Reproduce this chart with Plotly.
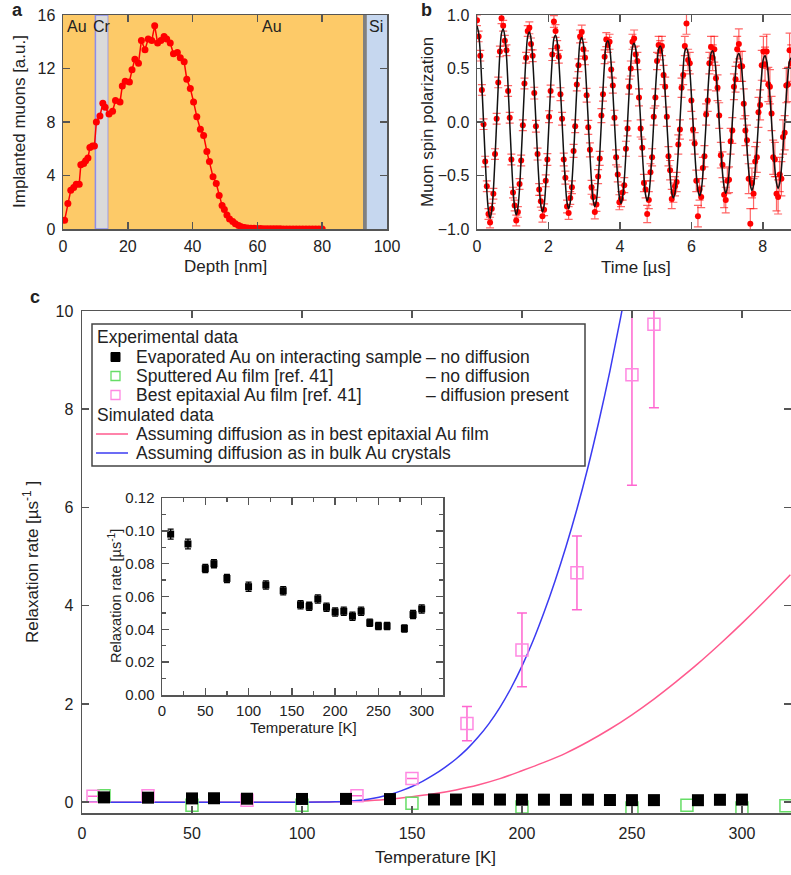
import plotly.graph_objects as go

W, H = 791, 875
FONT = "Arial, Liberation Sans, sans-serif"
TXT = "#222222"
AX = "#555555"

# ---------------- panel a: implantation profile ----------------
depth_nm = [0.5, 1.5, 2.4, 3.3, 4.1, 5.0, 5.5, 6.4, 7.0, 7.7,
            8.3, 9.1, 9.7, 10.3, 11.4, 12.3, 13.0, 14.2, 15.3, 16.2,
            17.6, 18.3, 19.2, 20.5, 21.3, 22.2, 23.3, 24.2, 25.3, 26.3,
            27.4, 28.3, 29.2, 30.2, 31.2, 32.0, 33.1, 34.1, 35.3, 36.2,
            37.4, 38.2, 39.3, 40.3, 41.3, 42.4, 43.4, 44.4, 45.2, 46.3,
            47.3, 48.2, 49.1, 49.8, 50.6, 51.4, 52.4, 53.2, 54.2, 55.0,
            56, 57, 58, 59, 60, 61, 62, 63, 64, 65, 66, 67, 68, 69, 70,
            71, 72, 73, 74, 75, 76, 77, 78, 79, 80]
muons = [0.65, 1.9, 2.9, 3.1, 3.35, 3.35, 4.8, 4.9, 5.1, 5.3,
         6.1, 6.2, 6.2, 8.0, 8.45, 9.4, 9.1, 8.6, 8.8, 9.6,
         9.5, 10.7, 11.05, 11.0, 11.9, 12.7, 12.4, 14.1, 13.4, 14.2,
         14.1, 15.2, 13.9, 14.1, 14.4, 14.2, 13.9, 13.1, 13.2, 12.8,
         12.5, 11.2, 10.5, 9.5, 8.4, 7.45, 7.0, 5.8, 5.05, 3.9,
         3.4, 2.5, 1.75, 1.45, 1.05, 0.75, 0.57, 0.4, 0.27, 0.17,
         0.12, 0.08, 0.06, 0.05, 0.04, 0.03, 0.02, 0.02, 0.01, 0.01, 0.01,
         0.01, 0.0, 0.0, 0.0, 0.0, 0.0, 0.0, 0.0, 0.0, 0.0, 0.0, 0.0, 0.0, 0.0]
layers = [  # (start nm, end nm, fill, line)
    (0, 10, "#FDCA68", None),
    (10, 14, "#DADADA", "#8C8CEB"),
    (14, 92.6, "#FDCA68", None),
    (92.6, 93.8, "#808080", None),
    (93.8, 100, "#C6D7EF", None),
]
layer_labels = [("Au", 4.3), ("Cr", 11.9), ("Au", 64.6), ("Si", 96.6)]

# ---------------- panel b: muon spin precession ----------------
b_time = [
    0.000, 0.046, 0.092, 0.137, 0.183, 0.229, 0.275, 0.321, 0.366, 0.412, 0.458, 0.504, 0.550, 0.595, 0.641, 0.687,
    0.733, 0.779, 0.825, 0.870, 0.916, 0.962, 1.008, 1.054, 1.099, 1.145, 1.191, 1.237, 1.283, 1.328, 1.374, 1.420,
    1.466, 1.512, 1.558, 1.603, 1.649, 1.695, 1.741, 1.787, 1.832, 1.878, 1.924, 1.970, 2.016, 2.061, 2.107, 2.153,
    2.199, 2.245, 2.291, 2.336, 2.382, 2.428, 2.474, 2.520, 2.565, 2.611, 2.657, 2.703, 2.749, 2.794, 2.840, 2.886,
    2.932, 2.978, 3.024, 3.069, 3.115, 3.161, 3.207, 3.253, 3.298, 3.344, 3.390, 3.436, 3.482, 3.527, 3.573, 3.619,
    3.665, 3.711, 3.757, 3.802, 3.848, 3.894, 3.940, 3.986, 4.031, 4.077, 4.123, 4.169, 4.215, 4.260, 4.306, 4.352,
    4.398, 4.444, 4.490, 4.535, 4.581, 4.627, 4.673, 4.719, 4.764, 4.810, 4.856, 4.902, 4.948, 4.993, 5.039, 5.085,
    5.131, 5.177, 5.223, 5.268, 5.314, 5.360, 5.406, 5.452, 5.497, 5.543, 5.589, 5.635, 5.681, 5.726, 5.772, 5.818,
    5.864, 5.910, 5.956, 6.001, 6.047, 6.093, 6.139, 6.185, 6.230, 6.276, 6.322, 6.368, 6.414, 6.459, 6.505, 6.551,
    6.597, 6.643, 6.689, 6.734, 6.780, 6.826, 6.872, 6.918, 6.963, 7.009, 7.055, 7.101, 7.147, 7.192, 7.238, 7.284,
    7.330, 7.376, 7.422, 7.467, 7.513, 7.559, 7.605, 7.651, 7.696, 7.742, 7.788, 7.834, 7.880, 7.925, 7.971, 8.017,
    8.063, 8.109, 8.155, 8.200, 8.246, 8.292, 8.338, 8.384, 8.429, 8.475, 8.521, 8.567, 8.613, 8.658, 8.704, 8.750,
    8.796]
b_polar = [
    0.95, 0.80, 0.62, 0.30, -0.02, -0.37, -0.60, -0.86, -0.94, -0.81, -0.67, -0.30, 0.03, 0.37, 0.66, 0.97,
    0.90, 0.76, 0.67, 0.29, 0.04, -0.35, -0.66, -0.78, -0.92, -0.84, -0.58, -0.36, -0.03, 0.36, 0.60, 0.85,
    0.88, 0.73, 0.62, 0.27, -0.04, -0.30, -0.63, -0.74, -0.88, -0.82, -0.55, -0.35, 0.05, 0.29, 0.63, 0.94,
    0.85, 0.70, 0.61, 0.26, 0.03, -0.35, -0.52, -0.79, -0.85, -0.71, -0.61, -0.27, -0.04, 0.35, 0.53, 0.80,
    0.84, 0.68, 0.60, 0.25, -0.05, -0.26, -0.61, -0.70, -0.84, -0.77, -0.51, -0.34, 0.06, 0.26, 0.61, 0.77,
    0.72, 0.75, 0.49, 0.34, 0.04, -0.33, -0.49, -0.75, -0.72, -0.66, -0.59, -0.25, -0.06, 0.33, 0.50, 0.75,
    0.78, 0.63, 0.57, 0.23, -0.06, -0.24, -0.57, -0.63, -0.86, -0.73, -0.47, -0.33, 0.05, 0.23, 0.57, 0.72,
    0.67, 0.71, 0.44, 0.33, 0.05, -0.32, -0.45, -0.72, -0.66, -0.60, -0.56, -0.21, -0.07, 0.32, 0.44, 0.71,
    0.92, 0.58, 0.55, 0.20, -0.07, -0.20, -0.55, -0.88, -0.63, -0.70, -0.43, -0.32, 0.07, 0.20, 0.55, 0.70,
    0.60, 0.68, 0.41, 0.32, 0.06, -0.31, -0.40, -0.68, -0.73, -0.55, -0.54, -0.18, -0.08, 0.33, 0.40, 0.68,
    0.73, 0.52, 0.52, 0.17, -0.08, -0.17, -0.53, -0.95, -0.57, -0.67, -0.37, -0.33, 0.09, 0.16, 0.53, 0.66,
    0.54, 0.66, 0.35, 0.33, 0.08, -0.33, -0.35, -0.67, -0.70, -0.49, -0.53, -0.14, -0.10, 0.34, 0.35, 0.67,
    0.55]
b_err = [
    0.05, 0.05, 0.05, 0.05, 0.05, 0.05, 0.05, 0.05, 0.05, 0.05, 0.05, 0.05, 0.05, 0.05, 0.05, 0.05,
    0.05, 0.05, 0.05, 0.05, 0.05, 0.05, 0.05, 0.05, 0.05, 0.05, 0.05, 0.05, 0.05, 0.05, 0.05, 0.05,
    0.055, 0.055, 0.055, 0.055, 0.055, 0.055, 0.055, 0.055, 0.055, 0.055, 0.055, 0.055, 0.055, 0.055, 0.055, 0.055,
    0.06, 0.06, 0.06, 0.06, 0.06, 0.06, 0.06, 0.06, 0.06, 0.06, 0.06, 0.06, 0.06, 0.06, 0.06, 0.06,
    0.065, 0.065, 0.065, 0.065, 0.065, 0.065, 0.065, 0.065, 0.065, 0.065, 0.065, 0.065, 0.065, 0.065, 0.065, 0.065,
    0.07, 0.07, 0.07, 0.07, 0.07, 0.07, 0.07, 0.07, 0.07, 0.07, 0.07, 0.07, 0.07, 0.07, 0.07, 0.07,
    0.08, 0.08, 0.08, 0.08, 0.08, 0.08, 0.08, 0.08, 0.08, 0.08, 0.08, 0.08, 0.08, 0.08, 0.08, 0.08,
    0.09, 0.09, 0.09, 0.09, 0.09, 0.09, 0.09, 0.09, 0.09, 0.09, 0.09, 0.09, 0.09, 0.09, 0.09, 0.09,
    0.10, 0.10, 0.10, 0.10, 0.10, 0.10, 0.10, 0.10, 0.10, 0.10, 0.10, 0.10, 0.10, 0.10, 0.10, 0.10,
    0.12, 0.12, 0.12, 0.12, 0.12, 0.12, 0.12, 0.12, 0.12, 0.12, 0.12, 0.12, 0.12, 0.12, 0.12, 0.12,
    0.14, 0.14, 0.14, 0.14, 0.14, 0.14, 0.14, 0.14, 0.14, 0.14, 0.14, 0.14, 0.14, 0.14, 0.14, 0.14,
    0.16, 0.16, 0.16, 0.16, 0.16, 0.16, 0.16, 0.16, 0.16, 0.16, 0.16, 0.16, 0.16, 0.16, 0.16, 0.16,
    0.17]
b_fit = [
    0.90, 0.83, 0.64, 0.34, 0, -0.34, -0.64, -0.83, -0.90, -0.83, -0.64, -0.34, 0, 0.34, 0.64, 0.83,
    0.87, 0.80, 0.62, 0.33, 0, -0.33, -0.62, -0.80, -0.87, -0.80, -0.62, -0.33, 0, 0.33, 0.62, 0.80,
    0.84, 0.78, 0.59, 0.32, 0, -0.32, -0.59, -0.78, -0.84, -0.78, -0.59, -0.32, 0, 0.32, 0.59, 0.78,
    0.81, 0.75, 0.57, 0.31, 0, -0.31, -0.57, -0.75, -0.81, -0.75, -0.57, -0.31, 0, 0.31, 0.57, 0.75,
    0.79, 0.73, 0.56, 0.30, 0, -0.30, -0.56, -0.73, -0.79, -0.73, -0.56, -0.30, 0, 0.30, 0.56, 0.73,
    0.76, 0.70, 0.54, 0.29, 0, -0.29, -0.54, -0.70, -0.76, -0.70, -0.54, -0.29, 0, 0.29, 0.54, 0.70,
    0.735, 0.68, 0.52, 0.28, 0, -0.28, -0.52, -0.68, -0.735, -0.68, -0.52, -0.28, 0, 0.28, 0.52, 0.68,
    0.71, 0.66, 0.50, 0.27, 0, -0.27, -0.50, -0.66, -0.71, -0.66, -0.50, -0.27, 0, 0.27, 0.50, 0.66,
    0.69, 0.64, 0.49, 0.26, 0, -0.26, -0.49, -0.64, -0.69, -0.64, -0.49, -0.26, 0, 0.26, 0.49, 0.64,
    0.665, 0.61, 0.47, 0.25, 0, -0.25, -0.47, -0.61, -0.665, -0.61, -0.47, -0.25, 0, 0.25, 0.47, 0.61,
    0.64, 0.59, 0.45, 0.245, 0, -0.245, -0.45, -0.59, -0.64, -0.59, -0.45, -0.245, 0, 0.245, 0.45, 0.59,
    0.62, 0.57, 0.44, 0.24, 0, -0.24, -0.44, -0.57, -0.62, -0.57, -0.44, -0.24, 0, 0.24, 0.44, 0.57,
    0.60]

# ---------------- panel c: relaxation rate vs temperature ----------------
evap_T = [10, 30, 50, 60, 75, 100, 120, 140, 160, 170, 180, 190, 200, 210, 220, 230, 240, 250, 260, 280, 290, 300]
evap_R = [0.098, 0.092, 0.077, 0.080, 0.071, 0.066, 0.067, 0.0635, 0.055, 0.054, 0.0585, 0.0535,
          0.0505, 0.051, 0.048, 0.051, 0.044, 0.042, 0.042, 0.0405, 0.049, 0.0524]
evap_err = [0.003, 0.003, 0.0025, 0.0025, 0.0025, 0.0028, 0.0025, 0.0025, 0.0025, 0.0025, 0.0025,
            0.0025, 0.0025, 0.0025, 0.0025, 0.0025, 0.0022, 0.0022, 0.0022, 0.0022, 0.0025, 0.0025]
sput_T = [10, 50, 100, 150, 200, 250, 275, 300, 320]
sput_R = [0.13, -0.06, -0.06, -0.02, -0.1, -0.12, -0.06, -0.12, -0.07]
epi_T = [5, 30, 75, 125, 150, 175, 200, 225, 250, 260]
epi_R = [0.12, 0.13, 0.04, 0.13, 0.48, 1.6, 3.1, 4.67, 8.7, 9.73]
epi_err = [0, 0, 0, 0, 0, 0.35, 0.75, 0.75, 2.25, 1.7]
sim_bulk_T = [0, 50, 100, 110, 115, 120, 125, 130, 135, 140, 145, 150, 155, 160, 165, 170, 175, 180,
              185, 190, 195, 200, 205, 210, 215, 220, 225, 230, 235, 240, 245, 250]
sim_bulk_R = [0, 0, 0, 0.002, 0.007, 0.016, 0.033, 0.06, 0.10, 0.155, 0.23, 0.32, 0.43, 0.56, 0.71,
              0.88, 1.08, 1.32, 1.6, 1.93, 2.32, 2.77, 3.28, 3.86, 4.5, 5.2, 5.97, 6.82, 7.76, 8.78, 9.9, 11.1]
sim_epi_T = [0, 50, 100, 110, 120, 130, 140, 150, 160, 170, 180, 190, 200, 210, 220, 230, 240, 250,
             260, 270, 280, 290, 300, 310, 322]
sim_epi_R = [0, 0, 0, 0.003, 0.012, 0.03, 0.06, 0.11, 0.17, 0.25, 0.35, 0.48, 0.64, 0.81, 1.0, 1.23,
             1.49, 1.78, 2.1, 2.45, 2.82, 3.22, 3.64, 4.08, 4.63]

C_BLUE = "#3B3BF2"
C_PINKLINE = "#FF5A8E"
C_GREEN = "#66DD66"
C_PINK = "#FF88E2"
C_PINKERR = "#FF66D0"


def px(x):
    return x / W


def py(y):
    return 1 - y / H


fig = go.Figure()

# panel a
fig.add_trace(go.Scatter(x=depth_nm, y=muons, mode="lines+markers", xaxis="x", yaxis="y",
                         line=dict(color="#FF0000", width=1.5),
                         marker=dict(color="#FF0000", size=7), showlegend=False))
# panel b
fig.add_trace(go.Scatter(x=b_time, y=b_polar, mode="markers", xaxis="x2", yaxis="y2",
                         marker=dict(color="#FF0000", size=6),
                         error_y=dict(type="data", array=b_err, color="rgba(255,0,0,0.6)",
                                      thickness=1.2, width=4),
                         showlegend=False))
fig.add_trace(go.Scatter(x=b_time, y=b_fit, mode="lines", xaxis="x2", yaxis="y2",
                         line=dict(color="#111111", width=1.5, shape="spline"), showlegend=False))
# panel c
fig.add_trace(go.Scatter(x=sim_epi_T, y=sim_epi_R, mode="lines", xaxis="x3", yaxis="y3",
                         line=dict(color=C_PINKLINE, width=1.5, shape="spline"), showlegend=False))
fig.add_trace(go.Scatter(x=sim_bulk_T, y=sim_bulk_R, mode="lines", xaxis="x3", yaxis="y3",
                         line=dict(color=C_BLUE, width=1.5, shape="spline"), showlegend=False))
fig.add_trace(go.Scatter(x=sput_T, y=sput_R, mode="markers", xaxis="x3", yaxis="y3",
                         marker=dict(symbol="square-open", size=12, color=C_GREEN, line=dict(width=1.5)),
                         showlegend=False))
fig.add_trace(go.Scatter(x=epi_T, y=epi_R, mode="markers", xaxis="x3", yaxis="y3",
                         marker=dict(symbol="square-open", size=12, color=C_PINK, line=dict(width=1.5)),
                         error_y=dict(type="data", array=epi_err, color=C_PINKERR, thickness=1.5, width=5),
                         showlegend=False))
fig.add_trace(go.Scatter(x=evap_T, y=evap_R, mode="markers", xaxis="x3", yaxis="y3",
                         marker=dict(symbol="square", size=12, color="#000000"), showlegend=False))
# inset
fig.add_trace(go.Scatter(x=evap_T, y=evap_R, mode="markers", xaxis="x4", yaxis="y4",
                         marker=dict(symbol="square", size=7, color="#000000"),
                         error_y=dict(type="data", array=evap_err, color="#000000", thickness=1.3, width=3),
                         showlegend=False))


def axis(domain, rng, dtick, size, anchor, fmt=None, minor=None, standoff=None):
    d = dict(domain=domain, range=rng, dtick=dtick, tick0=0, showline=True, linecolor=AX, linewidth=1.5,
             mirror="ticks", ticks="inside", ticklen=7, tickwidth=1.5, tickcolor=AX,
             showgrid=False, zeroline=False, anchor=anchor, automargin=False,
             tickfont=dict(family=FONT, size=size, color=TXT))
    if fmt:
        d["tickformat"] = fmt
    if minor:
        d["minor"] = minor
    if standoff is not None:
        d["ticklabelstandoff"] = standoff
    return d


A_X = [px(63), px(387)]
A_Y = [py(229), py(15)]
B_X = [px(477), 1.0]
C_X = [px(82), 1.0]
C_Y = [py(813), py(311)]
I_X = [px(162), px(443)]
I_Y = [py(695), py(498)]

shapes = []
for x0, x1, fill, ln in layers:
    shapes.append(dict(type="rect", xref="x", yref="y domain", x0=x0, x1=x1, y0=0, y1=1,
                       fillcolor=fill, line=dict(width=1.5 if ln else 0, color=ln or fill), layer="below"))

# legend box of panel c
shapes.append(dict(type="rect", xref="paper", yref="paper", x0=px(92), x1=px(585), y0=py(466), y1=py(324),
                   line=dict(color="#444444", width=1.5), fillcolor="white", layer="above"))
shapes.append(dict(type="rect", xref="paper", yref="paper", x0=px(111), x1=px(120), y0=py(361.5), y1=py(352.5),
                   line=dict(color="#000000", width=1), fillcolor="#000000", layer="above"))
shapes.append(dict(type="rect", xref="paper", yref="paper", x0=px(111), x1=px(120), y0=py(380.5), y1=py(371.5),
                   line=dict(color=C_GREEN, width=1.3), fillcolor="rgba(0,0,0,0)", layer="above"))
shapes.append(dict(type="rect", xref="paper", yref="paper", x0=px(111), x1=px(120), y0=py(399.5), y1=py(390.5),
                   line=dict(color=C_PINK, width=1.3), fillcolor="rgba(0,0,0,0)", layer="above"))
shapes.append(dict(type="line", xref="paper", yref="paper", x0=px(96), x1=px(128), y0=py(434), y1=py(434),
                   line=dict(color=C_PINKLINE, width=1.5), layer="above"))
shapes.append(dict(type="line", xref="paper", yref="paper", x0=px(96), x1=px(128), y0=py(453), y1=py(453),
                   line=dict(color=C_BLUE, width=1.5), layer="above"))

ann = []


def text(x, y, s, size=17, anchor="left", angle=0, bold=False):
    ann.append(dict(x=px(x), y=py(y), xref="paper", yref="paper", text=("<b>%s</b>" % s) if bold else s,
                    showarrow=False, xanchor=anchor, yanchor="middle", textangle=angle,
                    font=dict(family=FONT, size=size, color=TXT)))


for lab, xd in layer_labels:
    text(63.3 + xd * 3.233, 27, lab, size=16, anchor="center")

text(17, 10, "a", size=18, anchor="center", bold=True)
text(427, 10, "b", size=18, anchor="center", bold=True)
text(35, 297, "c", size=18, anchor="center", bold=True)

text(19, 122, "Implanted muons [a.u.]", anchor="center", angle=-90)
text(225, 266, "Depth [nm]", anchor="center")
text(427, 122, "Muon spin polarization", anchor="center", angle=-90)
text(636, 267, "Time [µs]", anchor="center")
text(31, 562, "Relaxation rate [µs<sup>-1</sup> ]", anchor="center", angle=-90)
text(436, 857, "Temperature [K]", anchor="center")
text(115, 596, "Relaxation rate [µs<sup>-1</sup>]", size=14.5, anchor="center", angle=-90)
text(303, 727, "Temperature [K]", size=15, anchor="center")

LEG = 17.5
text(95, 337, "Experimental data", size=LEG)
text(134, 357, "Evaporated Au on interacting sample", size=LEG)
text(424, 357, "– no diffusion", size=LEG)
text(134, 376, "Sputtered Au film [ref. 41]", size=LEG)
text(424, 376, "– no diffusion", size=LEG)
text(134, 395, "Best epitaxial Au film [ref. 41]", size=LEG)
text(424, 395, "– diffusion present", size=LEG)
text(95, 415, "Simulated data", size=LEG)
text(134, 434, "Assuming diffusion as in best epitaxial Au film", size=LEG)
text(134, 453, "Assuming diffusion as in bulk Au crystals", size=LEG)

fig.update_layout(
    width=W, height=H, margin=dict(l=0, r=0, t=0, b=0),
    paper_bgcolor="white", plot_bgcolor="rgba(0,0,0,0)",
    xaxis=axis(A_X, [0, 100], 20, 16, "y", standoff=2),
    yaxis=axis(A_Y, [0, 16], 4, 16, "x", standoff=3),
    xaxis2=axis(B_X, [0, 8.79], 2, 16, "y2", standoff=2),
    yaxis2=axis(A_Y, [-1, 1], 0.5, 16, "x2", fmt=".1f", standoff=3),
    xaxis3=axis(C_X, [0, 322.3], 50, 16, "y3", standoff=5),
    yaxis3=axis(C_Y, [-0.22, 10], 2, 16, "x3", standoff=4),
    xaxis4=axis(I_X, [0, 324.6], 50, 15, "y4", standoff=1,
                minor=dict(dtick=25, ticks="inside", ticklen=4, tickcolor=AX, tickwidth=1.2)),
    yaxis4=axis(I_Y, [0, 0.12], 0.02, 15, "x4", fmt=".2f", standoff=3,
                minor=dict(dtick=0.01, ticks="inside", ticklen=4, tickcolor=AX, tickwidth=1.2)),
    shapes=shapes, annotations=ann,
)

fig.write_html("out.html", config={"displayModeBar": False, "staticPlot": True},
               post_script="document.body.style.margin='0';document.body.style.overflow='hidden';")
